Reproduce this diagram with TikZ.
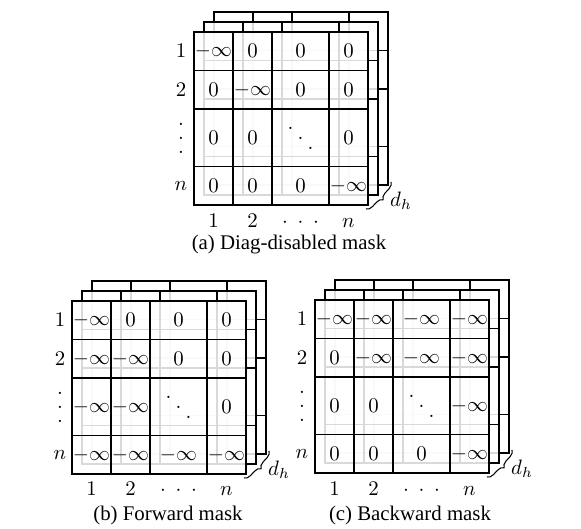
\documentclass[tikz,border=0pt]{standalone}
\usepackage[no-math]{fontspec}
\usetikzlibrary{decorations.pathreplacing}

\newfontfamily\capfont{Liberation Serif}
\newcommand\vdotsbig{\vbox{\baselineskip6.7pt\lineskiplimit0pt\hbox{.}\hbox{.}\hbox{.}}}
\newcommand\cdotsbig{\cdotp\kern3pt\cdotp\kern3pt\cdotp}
\newcommand\ddotsbig{\mathinner{\raise9.6pt\hbox{.}\kern2pt\raise4.8pt\hbox{.}\kern2pt\hbox{.}}}
% one head of the mask, top left corner at (#1,#2)
\newcommand\masklayer[2]{%
  \filldraw[layer] (#1,#2) rectangle ++(174,173);
  \draw[gridline] (#1+39,#2) -- ++(0,173) (#1+78,#2) -- ++(0,173) (#1+135,#2) -- ++(0,173)
    (#1,#2+38.5) -- ++(174,0) (#1,#2+77) -- ++(174,0) (#1,#2+134.5) -- ++(174,0);
}

\begin{document}
\begin{tikzpicture}[x=0.48pt, y=-0.48pt,
  layer/.style={fill=white, fill opacity=0.85, line width=0.7pt},
  gridline/.style={line width=0.7pt},
  entry/.style={anchor=center, inner sep=0pt},
  caption/.style={anchor=center, inner sep=0pt, font=\capfont},
  headbrace/.style={decorate, decoration={brace, amplitude=3pt}, line width=0.5pt}]
\useasboundingbox (0,0) rectangle (581,529);

% (a) diag-disabled
\masklayer{214}{12}
\masklayer{204}{22}
\masklayer{194}{32}
\foreach \v/\x [count=\j] in {-\infty/213.5, 0/252.5, 0/300.5, 0/348.5} \node[entry] (a1\j) at (\x,51) {$\v$};
\foreach \v/\x [count=\j] in {0/213.5, -\infty/252.5, 0/300.5, 0/348.5} \node[entry] (a2\j) at (\x,90) {$\v$};
\foreach \v/\x [count=\j] in {0/213.5, 0/252.5, \ddotsbig/300.5, 0/348.5} \node[entry] (a3\j) at (\x,138) {$\v$};
\foreach \v/\x [count=\j] in {0/213.5, 0/252.5, 0/300.5, -\infty/348.5} \node[entry] (a4\j) at (\x,186) {$\v$};
\foreach \t/\y [count=\j] in {$1$/51, $2$/90, \vdotsbig/138, $n$/186} \node[entry] (ar\j) at (181,\y) {\t};
\foreach \t/\x [count=\j] in {1/213.5, 2/252.5, \cdotsbig/300.5, n/348.5} \node[entry, anchor=base] (ac\j) at (\x,227) {$\t$};
\coordinate (ab1) at (391,182);
\coordinate (ab2) at (366,209);
\draw[headbrace] (ab1) -- (ab2);
\node[entry] (adh) at (401,201) {$d_h$};
\node[caption] (capa) at (289,245) {(a) Diag-disabled mask};

% (b) forward
\masklayer{92}{281}
\masklayer{82}{291}
\masklayer{72}{301}
\foreach \v/\x [count=\j] in {-\infty/91.5, 0/130.5, 0/178.5, 0/226.5} \node[entry] (b1\j) at (\x,320) {$\v$};
\foreach \v/\x [count=\j] in {-\infty/91.5, -\infty/130.5, 0/178.5, 0/226.5} \node[entry] (b2\j) at (\x,359) {$\v$};
\foreach \v/\x [count=\j] in {-\infty/91.5, -\infty/130.5, \ddotsbig/178.5, 0/226.5} \node[entry] (b3\j) at (\x,407) {$\v$};
\foreach \v/\x [count=\j] in {-\infty/91.5, -\infty/130.5, -\infty/178.5, -\infty/226.5} \node[entry] (b4\j) at (\x,455) {$\v$};
\foreach \t/\y [count=\j] in {$1$/320, $2$/359, \vdotsbig/407, $n$/455} \node[entry] (br\j) at (60,\y) {\t};
\foreach \t/\x [count=\j] in {1/91.5, 2/130.5, \cdotsbig/178.5, n/226.5} \node[entry, anchor=base] (bc\j) at (\x,496) {$\t$};
\coordinate (bb1) at (269,451);
\coordinate (bb2) at (244,478);
\draw[headbrace] (bb1) -- (bb2);
\node[entry] (bdh) at (279,470) {$d_h$};
\node[caption] (capb) at (168,515) {(b) Forward mask};

% (c) backward
\masklayer{335}{280}
\masklayer{325}{290}
\masklayer{315}{300}
\foreach \v/\x [count=\j] in {-\infty/334.5, -\infty/373.5, -\infty/421.5, -\infty/469.5} \node[entry] (c1\j) at (\x,319) {$\v$};
\foreach \v/\x [count=\j] in {0/334.5, -\infty/373.5, -\infty/421.5, -\infty/469.5} \node[entry] (c2\j) at (\x,358) {$\v$};
\foreach \v/\x [count=\j] in {0/334.5, 0/373.5, \ddotsbig/421.5, -\infty/469.5} \node[entry] (c3\j) at (\x,406) {$\v$};
\foreach \v/\x [count=\j] in {0/334.5, 0/373.5, 0/421.5, -\infty/469.5} \node[entry] (c4\j) at (\x,454) {$\v$};
\foreach \t/\y [count=\j] in {$1$/319, $2$/358, \vdotsbig/406, $n$/454} \node[entry] (cr\j) at (302,\y) {\t};
\foreach \t/\x [count=\j] in {1/334.5, 2/373.5, \cdotsbig/421.5, n/469.5} \node[entry, anchor=base] (cc\j) at (\x,495) {$\t$};
\coordinate (cb1) at (512,450);
\coordinate (cb2) at (487,477);
\draw[headbrace] (cb1) -- (cb2);
\node[entry] (cdh) at (522,469) {$d_h$};
\node[caption] (capc) at (410,515) {(c) Backward mask};
\end{tikzpicture}
\end{document}
